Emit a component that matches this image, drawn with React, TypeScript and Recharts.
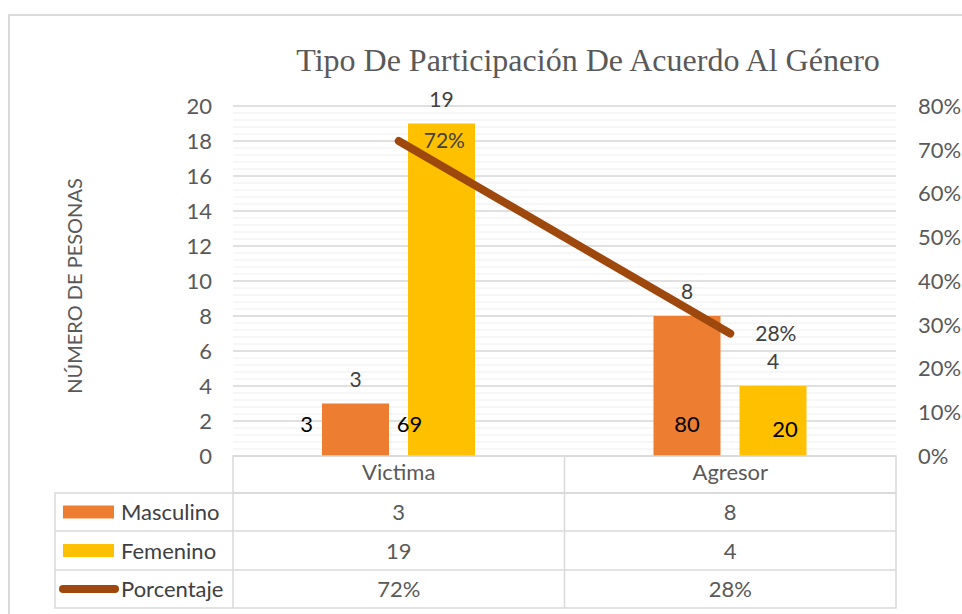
import React from "react";
import {
  ComposedChart,
  Bar,
  Line,
  XAxis,
  YAxis,
  CartesianGrid,
  LabelList,
} from "recharts";

const categories = ["Victima", "Agresor"];
const masculino = [3, 8];
const femenino = [19, 4];
const porcentaje = [0.72, 0.28];
// numbers typed over the bars in the original
const mascNotes = ["3", "80"];
const femNotes = ["69", "20"];

const leftTicks = [0, 2, 4, 6, 8, 10, 12, 14, 16, 18, 20];
const rightTicks = [0, 0.1, 0.2, 0.3, 0.4, 0.5, 0.6, 0.7, 0.8];

const data = categories.map((c, i) => ({
  category: c,
  masculino: masculino[i],
  femenino: femenino[i],
  porcentaje: porcentaje[i],
  mascNote: mascNotes[i],
  femNote: femNotes[i],
}));

// minor gridlines every 0.4
const minorTicks: number[] = [];
for (let i = 0; i <= 50; i++) minorTicks.push(Math.round(i * 0.4 * 10) / 10);

const ORANGE = "#ED7D31";
const GOLD = "#FFC000";
const BROWN = "#9E480E";
const TEXT = "#595959";
const LINE = "#D9D9D9";
const FONT = "Lato, 'Noto Sans', sans-serif";

// plot box
const PL = 233;
const PR = 896;
const PT = 106;
const PB = 456;
const colW = (PR - PL) / 2;

const pct = (v: number) => `${Math.round(v * 100)}%`;

function note(shifts: { dx: number; anchor: "start" | "middle" | "end"; dy: number }[]) {
  return (props: any) => {
    const { x, y, width, height, value, index } = props;
    const s = shifts[index] || { dx: 0, anchor: "middle", dy: 24 };
    let tx = Number(x) + Number(width) / 2 + s.dx;
    if (s.anchor === "end") tx = Number(x) + s.dx;
    return (
      <text
        x={tx}
        y={Number(y) + Number(height) - s.dy}
        textAnchor={s.anchor}
        fontSize={22}
        fontFamily={FONT}
        fill="#000"
      >
        {value}
      </text>
    );
  };
}

const mascShift = [
  { dx: -9, anchor: "end" as const, dy: 24 },
  { dx: 0, anchor: "middle" as const, dy: 24 },
];
const femShift = [
  { dx: -32, anchor: "middle" as const, dy: 24 },
  { dx: 12, anchor: "middle" as const, dy: 19 },
];

const rows = [
  { name: "Masculino", values: masculino.map(String), kind: "bar", color: ORANGE },
  { name: "Femenino", values: femenino.map(String), kind: "bar", color: GOLD },
  { name: "Porcentaje", values: porcentaje.map(pct), kind: "line", color: BROWN },
];
const rowTops = [493, 531, 570, 608];

const tickStyle = { fill: TEXT, fontSize: 22, fontFamily: FONT };

export default function App() {
  return (
    <div
      style={{
        position: "absolute",
        left: 0,
        top: 0,
        width: 962,
        height: 614,
        background: "#fff",
        fontFamily: FONT,
      }}
    >
      <ComposedChart
        width={962}
        height={614}
        data={data}
        barSize={67}
        barGap={19}
        margin={{ top: PT, bottom: 614 - PB - 37, left: PL - 70, right: 962 - PR - 70 }}
      >
        <CartesianGrid vertical={false} stroke="#EEEEEE" horizontalValues={minorTicks} />
        <CartesianGrid vertical={false} stroke={LINE} strokeWidth={1.5} />
        <XAxis
          dataKey="category"
          height={37}
          axisLine={false}
          tickLine={false}
          tickMargin={2}
          tick={tickStyle}
        />
        <YAxis
          width={70}
          domain={[0, 20]}
          ticks={leftTicks}
          interval={0}
          axisLine={false}
          tickLine={false}
          tickMargin={15}
          tick={tickStyle}
        />
        <YAxis
          yAxisId="pct"
          orientation="right"
          width={70}
          domain={[0, 0.8]}
          ticks={rightTicks}
          interval={0}
          tickFormatter={pct}
          axisLine={false}
          tickLine={false}
          tickMargin={16}
          tick={tickStyle}
        />
        <Bar dataKey="masculino" fill={ORANGE} isAnimationActive={false}>
          <LabelList dataKey="masculino" position="top" offset={17} fill="#404040" fontSize={21} fontFamily={FONT} />
          <LabelList dataKey="mascNote" content={note(mascShift)} />
        </Bar>
        <Bar dataKey="femenino" fill={GOLD} isAnimationActive={false}>
          <LabelList dataKey="femenino" position="top" offset={17} fill="#404040" fontSize={21} fontFamily={FONT} />
          <LabelList dataKey="femNote" content={note(femShift)} />
        </Bar>
        <Line
          yAxisId="pct"
          dataKey="porcentaje"
          type="linear"
          stroke={BROWN}
          strokeWidth={8}
          strokeLinecap="round"
          dot={false}
          activeDot={false}
          isAnimationActive={false}
        >
          <LabelList
            dataKey="porcentaje"
            position="right"
            offset={25}
            formatter={(v: any) => pct(Number(v))}
            fill="#404040"
            fontSize={21}
            fontFamily={FONT}
          />
        </Line>
      </ComposedChart>

      <svg
        width={962}
        height={614}
        style={{ position: "absolute", left: 0, top: 0, pointerEvents: "none" }}
      >
        <rect x={9} y={15} width={1000} height={700} fill="none" stroke="#DADADA" strokeWidth={2} />
        <text
          x={588}
          y={71}
          textAnchor="middle"
          fontSize={32}
          fontFamily="'Liberation Serif', 'DejaVu Serif', serif"
          fill={TEXT}
        >
          Tipo De Participación De Acuerdo Al Género
        </text>
        <text
          x={0}
          y={0}
          transform="translate(82,286) rotate(-90)"
          textAnchor="middle"
          fontSize={20}
          fontFamily={FONT}
          fill={TEXT}
        >
          NÚMERO DE PESONAS
        </text>

        {/* data table */}
        <g stroke={LINE} strokeWidth={1.5} fill="none">
          <rect x={PL} y={PB} width={PR - PL} height={rowTops[0] - PB} />
          <line x1={PL + colW} y1={PB} x2={PL + colW} y2={rowTops[3]} />
          <rect x={55} y={rowTops[0]} width={PR - 55} height={rowTops[3] - rowTops[0]} />
          <line x1={PL} y1={rowTops[0]} x2={PL} y2={rowTops[3]} />
          <line x1={55} y1={rowTops[1]} x2={PR} y2={rowTops[1]} />
          <line x1={55} y1={rowTops[2]} x2={PR} y2={rowTops[2]} />
        </g>
        {rows.map((r, i) => {
          const cy = (rowTops[i] + rowTops[i + 1]) / 2;
          return (
            <g key={r.name}>
              {r.kind === "bar" ? (
                <rect x={63} y={cy - 6.5} width={51} height={13} fill={r.color} />
              ) : (
                <line x1={63} y1={cy} x2={115} y2={cy} stroke={r.color} strokeWidth={8} strokeLinecap="round" />
              )}
              <text x={121} y={cy + 8} fontSize={22} fontFamily={FONT} fill="#404040">
                {r.name}
              </text>
              {r.values.map((v, j) => (
                <text
                  key={j}
                  x={PL + colW * (j + 0.5)}
                  y={cy + 8}
                  textAnchor="middle"
                  fontSize={22}
                  fontFamily={FONT}
                  fill={TEXT}
                >
                  {v}
                </text>
              ))}
            </g>
          );
        })}
      </svg>
    </div>
  );
}
